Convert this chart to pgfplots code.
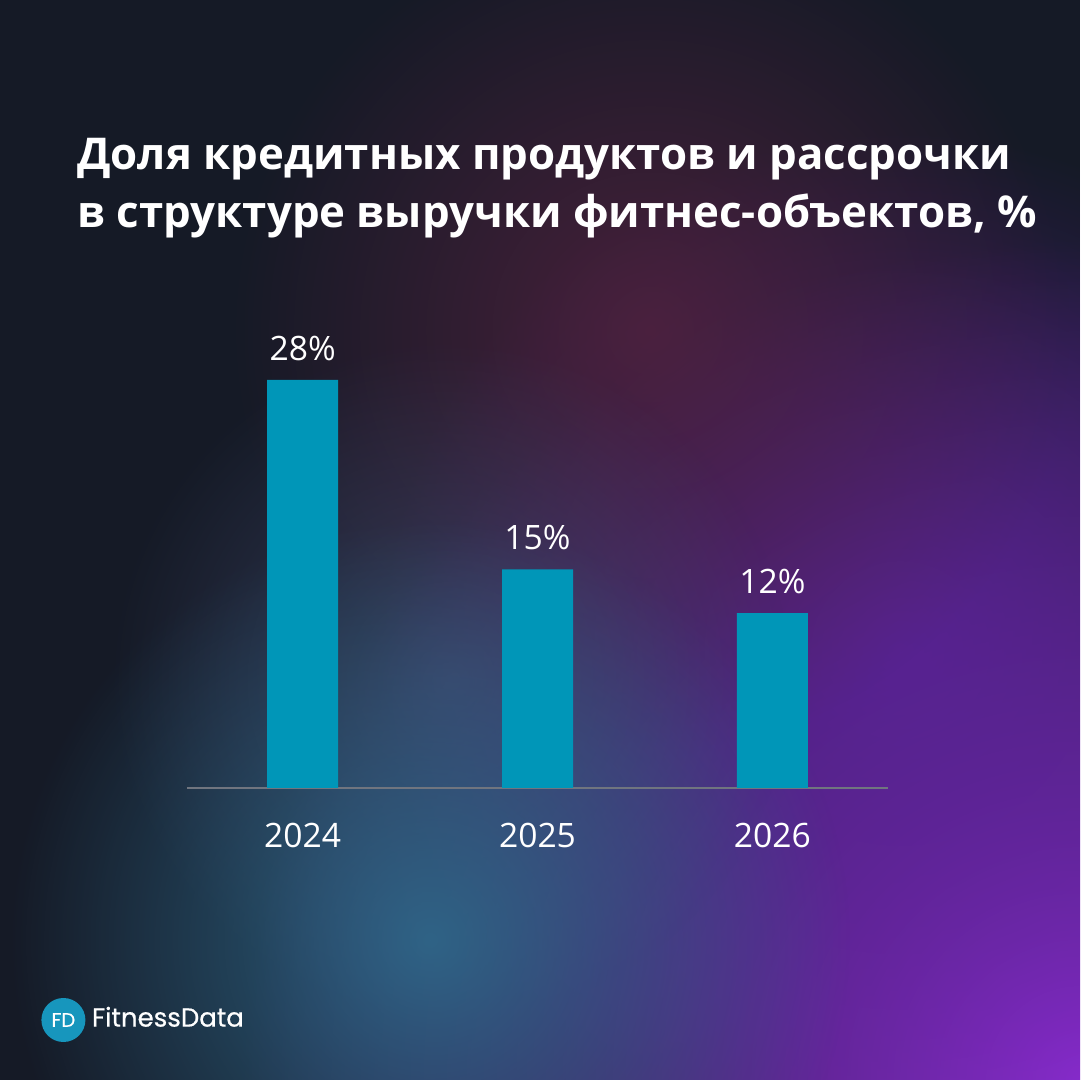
\documentclass[border=0pt]{standalone}
\usepackage{fontspec}
\setmainfont{Open Sans}
\newfontfamily\poppins[FakeBold=0.6]{Poppins}
\usepackage{pgfplots}
\pgfplotsset{compat=1.18}
\usetikzlibrary{fadings}
\tikzfading[name=glow, inner color=transparent!0, outer color=transparent!100]
\definecolor{bgbase}{HTML}{151A26}
\definecolor{barcol}{HTML}{0096B8}
\definecolor{axisgray}{HTML}{70757F}
\definecolor{logocol}{HTML}{1796BD}
\definecolor{purpA}{HTML}{8A2CCF}
\definecolor{purpB}{HTML}{5B2399}
\definecolor{maroon}{HTML}{552240}
\definecolor{tealglow}{HTML}{2F6A8C}
\definecolor{lavglow}{HTML}{434B70}
\begin{document}
\begin{tikzpicture}[x=1pt,y=1pt]
\useasboundingbox (0,0) rectangle (540,540);
\begin{scope}
\clip (0,0) rectangle (540,540);
\fill[bgbase] (0,0) rectangle (540,540);
\fill[purpA, path fading=glow] (540,0) circle (420);
\fill[purpB, path fading=glow, fill opacity=0.8] (450,215) circle (260);
\fill[maroon, path fading=glow, fill opacity=0.8] (325,375) circle (210);
\fill[lavglow, path fading=glow, fill opacity=0.7] (225,200) circle (170);
\fill[tealglow, path fading=glow, fill opacity=0.9] (215,70) circle (210);
\end{scope}
% title
\node[anchor=base west, inner sep=0pt, text=white, font=\fontsize{21.9}{28}\selectfont\bfseries] at (38.5,455) {Доля кредитных продуктов и рассрочки};
\node[anchor=base west, inner sep=0pt, text=white, font=\fontsize{21.9}{28}\selectfont\bfseries] at (38.5,426) {в структуре выручки фитнес-объектов, \%};
% logo
\fill[logocol] (31.7,30) circle (11);
\node[text=white, inner sep=0pt, font=\poppins\fontsize{9.8}{11}\selectfont] at (31.7,30) {FD};
\node[anchor=base west, inner sep=0pt, text=white, font=\poppins\fontsize{13}{15}\selectfont] at (45.8,26.7) {FitnessData};
\begin{axis}[
  at={(93.5pt,146pt)}, anchor=south west,
  scale only axis, width=350.5pt, height=218.6pt,
  xmin=-0.4925, xmax=2.4925, ymin=0, ymax=30,
  axis x line=bottom, axis y line=none,
  axis line style={draw=axisgray, line width=1pt, -},
  xtick={0,1,2}, xticklabels={2024,2025,2026},
  major tick length=0pt, ytick=\empty,
  /pgf/number format/assume math mode=true,
  xticklabel style={text=white, inner sep=0pt, anchor=north, yshift=-17.5pt, font=\fontsize{16.8}{20}\selectfont},
  ybar, bar width=35.5pt,
  nodes near coords={\pgfmathprintnumber{\pgfplotspointmeta}\%},
  nodes near coords style={text=white, inner sep=0pt, anchor=south, yshift=9.5pt, font=\fontsize{16.8}{20}\selectfont},
  clip=false,
]
\addplot[fill=barcol, draw=none] coordinates {(0,28) (1,15) (2,12)};
\end{axis}
\end{tikzpicture}
\end{document}
